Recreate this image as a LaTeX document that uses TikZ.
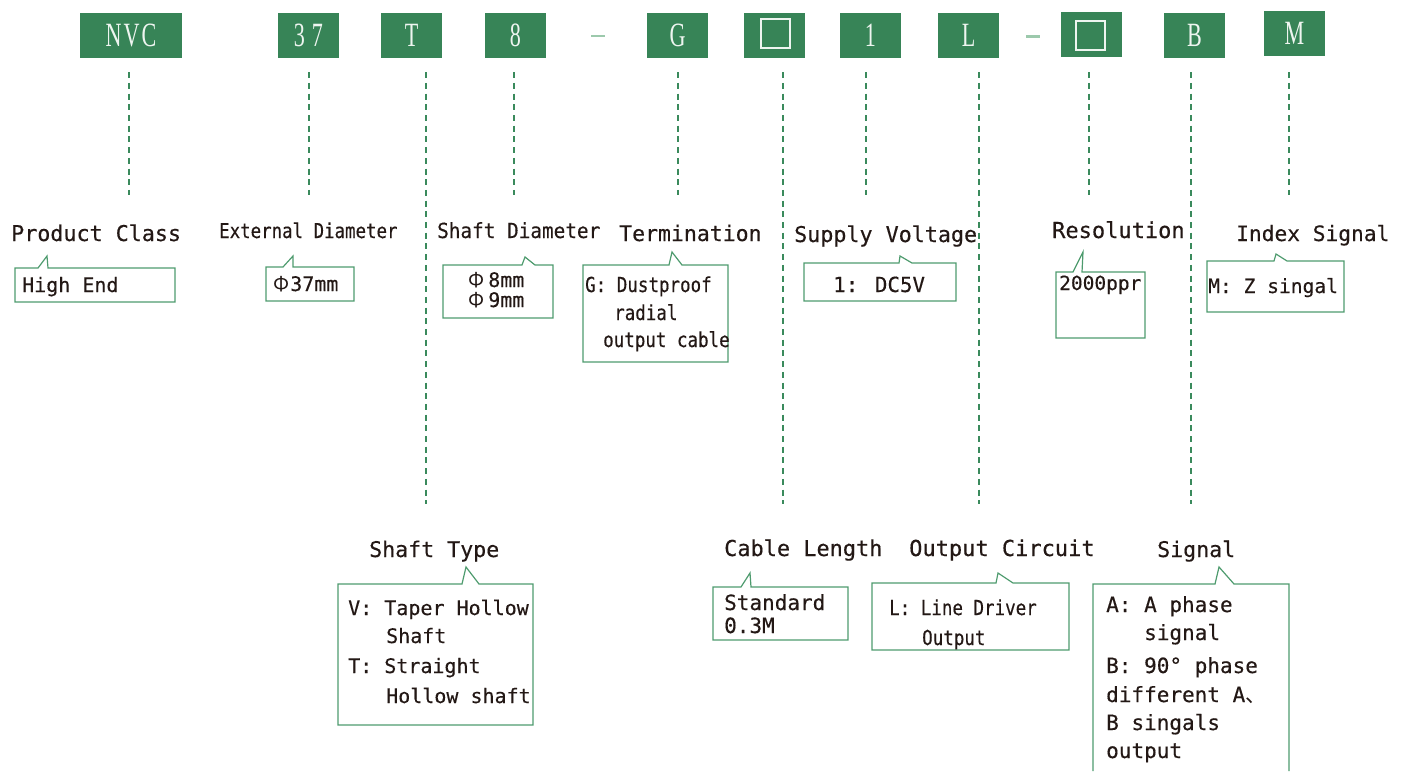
\documentclass[tikz,border=0pt]{standalone}
\usepackage{fontspec}
\usetikzlibrary{calc}
\newfontfamily\mono[FakeBold=0.35]{DejaVu Sans Mono}
\newfontfamily\monoc[FakeStretch=0.85,FakeBold=0.35]{DejaVu Sans Mono}
\newfontfamily\monod[FakeStretch=0.93,FakeBold=0.35]{DejaVu Sans Mono}
\newfontfamily\cjkf{Noto Sans CJK SC}
\newfontfamily\topf[FakeStretch=0.65]{Liberation Serif}
\definecolor{tg}{HTML}{378457}
\definecolor{dg}{HTML}{3A8A5C}
\definecolor{cg}{HTML}{4E9B6E}
\definecolor{lg}{HTML}{9CC9AC}
\definecolor{ink}{HTML}{231815}
\definecolor{tw}{HTML}{EEF5F0}
\newcommand\callout[8]{\draw[cbox] (#1,#2) -- (#5,#2) -- (#6,#7) -- (#8,#2) -- (#3,#2) -- (#3,#4) -- (#1,#4) -- cycle;}
\newcommand\phisym{{\cjkf Φ}}
\begin{document}
\begin{tikzpicture}[x=1pt,y=-1pt,
  topbox/.style={fill=tg, minimum width=61pt, minimum height=45pt, inner sep=0pt, text=tw, font=\topf\fontsize{34}{34}\selectfont},
  sqbox/.style={draw=tw, line width=2pt, minimum size=29pt, inner sep=0pt},
  dline/.style={draw=dg, line width=1.5pt, dash pattern=on 6pt off 4.7pt},
  cbox/.style={draw=cg, line width=1.2pt},
  lbl/.style={anchor=base west, inner sep=0pt, text=ink, font=\mono\fontsize{#1}{#1}\selectfont},
  bt/.style={anchor=base west, inner sep=0pt, text=ink, font=\mono\fontsize{#1}{#1}\selectfont},
  btc/.style={anchor=base west, inner sep=0pt, text=ink, font=\monoc\fontsize{#1}{#1}\selectfont},
  sepdash/.style={text=lg, inner sep=0pt}]
\useasboundingbox (0,0) rectangle (1405,771);
% ---- top code boxes
\node[topbox, minimum width=102pt] (nvc) at (131,35.5) {N\hspace{2pt}V\hspace{2pt}C};
\node[topbox] (d37) at (308.5,35.5) {3\hspace{7pt}7};
\node[topbox] (tT) at (411.5,35.5) {T};
\node[topbox] (t8) at (515.5,35.5) {8};
\node[sepdash] (dash1) at (598,36) {\rule{14pt}{2.4pt}};
\node[topbox] (tG) at (677.5,35.5) {G};
\node[topbox] (sq1) at (774.5,35.5) {};
\node[sqbox] (sq1in) at (775.5,33.5) {};
\node[topbox] (t1) at (870.5,35.5) {1};
\node[topbox] (tL) at (968.5,35.5) {L};
\node[sepdash] (dash2) at (1033,36.5) {\rule{14pt}{2.4pt}};
\node[topbox] (sq2) at (1091.5,34.5) {};
\node[sqbox] (sq2in) at (1090,35.5) {};
\node[topbox] (tB) at (1194.5,35.5) {B};
\node[topbox] (tM) at (1294.5,33.5) {M};
% ---- dashed leader lines
\coordinate (e1) at (129,195);
\coordinate (e2) at (309,195);
\coordinate (e3) at (426,504);
\coordinate (e4) at (514,195);
\coordinate (e5) at (678,195);
\coordinate (e6) at (783,504);
\coordinate (e7) at (866,195);
\coordinate (e8) at (979,504);
\coordinate (e9) at (1089,195);
\coordinate (e10) at (1191,504);
\coordinate (e11) at (1289,195);
\draw[dline] ($(nvc.south -| e1)+(0,14)$) -- (e1);
\draw[dline] ($(d37.south -| e2)+(0,14)$) -- (e2);
\draw[dline] ($(tT.south -| e3)+(0,14)$) -- (e3);
\draw[dline] ($(t8.south -| e4)+(0,14)$) -- (e4);
\draw[dline] ($(tG.south -| e5)+(0,14)$) -- (e5);
\draw[dline] ($(sq1.south -| e6)+(0,14)$) -- (e6);
\draw[dline] ($(t1.south -| e7)+(0,14)$) -- (e7);
\draw[dline] ($(tL.south -| e8)+(0,14)$) -- (e8);
\draw[dline] ($(sq2.south -| e9)+(0,15)$) -- (e9);
\draw[dline] ($(tB.south -| e10)+(0,14)$) -- (e10);
\draw[dline] ($(tM.south -| e11)+(0,16)$) -- (e11);
% ---- upper labels
\node[lbl=21.7] (lPC) at (11,241) {Product Class};
\node[anchor=base west, inner sep=0pt, text=ink, font=\monoc\fontsize{20.5}{20.5}\selectfont] (lED) at (219,238) {External Diameter};
\node[anchor=base west, inner sep=0pt, text=ink, font=\monod\fontsize{20.8}{20.8}\selectfont] (lSD) at (437,238) {Shaft Diameter};
\node[lbl=21.5] (lTe) at (619,241) {Termination};
\node[lbl=21.7] (lSV) at (794,242) {Supply Voltage};
\node[lbl=22] (lRe) at (1052,238) {Resolution};
\node[lbl=21.2] (lIS) at (1236,241) {Index Signal};
% ---- lower labels
\node[lbl=21.6] (lST) at (369,557) {Shaft Type};
\node[lbl=21.9] (lCL) at (724,556) {Cable Length};
\node[lbl=22] (lOC) at (909,556) {Output Circuit};
\node[lbl=21.6] (lSi) at (1157,557) {Signal};
% ---- callout boxes
\callout{15}{268}{175}{302}{38}{47}{256}{48}
\callout{266}{267}{354}{301}{283}{293}{256}{293}
\callout{443}{265}{553}{318}{522}{525}{257}{535}
\callout{583}{265}{728}{362}{669}{672}{252}{682}
\callout{804}{263}{956}{301}{899}{900}{256}{912}
\callout{1056}{272}{1145}{338}{1073}{1083}{252}{1082}
\callout{1207}{261}{1344}{312}{1274}{1276}{254}{1287}
\callout{338}{584}{533}{725}{462}{466}{567}{479}
\callout{713}{587}{848}{640}{741}{750}{573}{751}
\callout{872}{583}{1069}{650}{996}{998}{573}{1013}
\draw[cbox] (1093,771) -- (1093,584) -- (1215,584) -- (1219,567) -- (1234,584) -- (1289,584) -- (1289,771);
% ---- callout texts
\node[bt=20] (tHE) at (22,292) {High End};
\node[bt=20] (tP37) at (273,291) {\phisym\hspace{1pt}37mm};
\node[bt=20] (tP8) at (468,287) {\phisym\hspace{4pt}8mm};
\node[bt=20] (tP9) at (468,307) {\phisym\hspace{4pt}9mm};
\node[btc=20.6] (tG1) at (585,292) {G: Dustproof};
\node[btc=20.6] (tG2) at (614,320) {radial};
\node[btc=20.6] (tG3) at (603,347) {output cable};
\node[bt=20.8] (tV1) at (833,292) {1: DC5V};
\node[bt=19.5] (tR1) at (1059,290) {2000ppr};
\node[bt=19.6] (tM1) at (1208,293) {M: Z singal};
\node[bt=20] (tS1) at (348,615) {V: Taper Hollow};
\node[bt=20] (tS2) at (386,643) {Shaft};
\node[bt=20] (tS3) at (348,673) {T: Straight};
\node[bt=20] (tS4) at (386,703) {Hollow shaft};
\node[bt=21] (tC1) at (724,610) {Standard};
\node[bt=21] (tC2) at (724,633) {0.3M};
\node[btc=20.6] (tL1) at (889,615) {L: Line Driver};
\node[btc=20.6] (tL2) at (922,645) {Output};
\node[bt=21] (tA1) at (1106,612) {A: A phase};
\node[bt=21] (tA2) at (1144,640) {signal};
\node[bt=21] (tA3) at (1106,673) {B: 90° phase};
\node[bt=21] (tA4) at (1106,702) {different A{\cjkf 、}};
\node[bt=21] (tA5) at (1106,730) {B singals};
\node[bt=21] (tA6) at (1106,758) {output};
\end{tikzpicture}
\end{document}
